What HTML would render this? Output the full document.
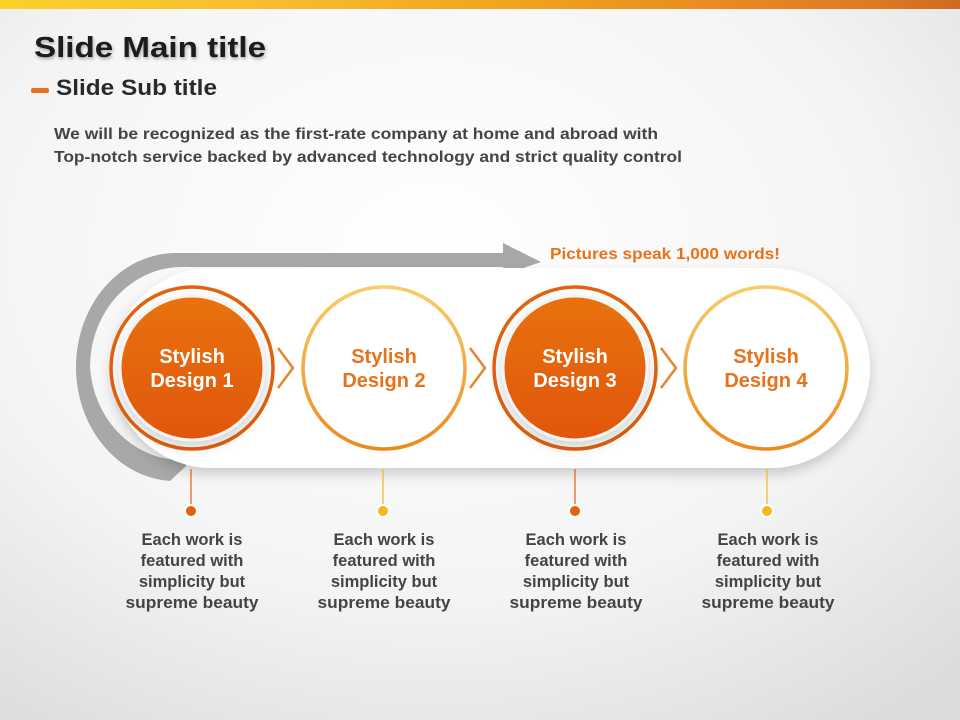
<!DOCTYPE html>
<html><head><style>
body{margin:0;width:960px;height:720px;overflow:hidden;font-family:"Liberation Sans",sans-serif;}
</style></head><body>
<svg width="960" height="720" xmlns="http://www.w3.org/2000/svg" style="display:block">
<defs>
<radialGradient id="bg" cx="0.45" cy="0.35" r="0.8"><stop offset="0" stop-color="#ffffff"/><stop offset="0.6" stop-color="#f4f4f4"/><stop offset="1" stop-color="#dcdcdc"/></radialGradient>
<linearGradient id="top" x1="0" x2="1"><stop offset="0" stop-color="#fbd12a"/><stop offset="0.3" stop-color="#f7bb2e"/><stop offset="0.5" stop-color="#f0a81e"/><stop offset="0.75" stop-color="#e98a22"/><stop offset="0.9" stop-color="#e07a24"/><stop offset="1" stop-color="#d06a20"/></linearGradient>
<linearGradient id="fill" x1="0" y1="0" x2="0" y2="1"><stop offset="0" stop-color="#e8720f"/><stop offset="1" stop-color="#e2560a"/></linearGradient>
<linearGradient id="ring2" x1="0" y1="0" x2="0" y2="1"><stop offset="0" stop-color="#f9cc68"/><stop offset="1" stop-color="#ec8a1c"/></linearGradient>
<filter id="sh" x="-20%" y="-20%" width="140%" height="150%"><feDropShadow dx="0" dy="6" stdDeviation="6" flood-color="#000" flood-opacity="0.18"/></filter>
<filter id="ts"><feDropShadow dx="1" dy="2" stdDeviation="1.5" flood-color="#000" flood-opacity="0.3"/></filter>
</defs>
<rect width="960" height="720" fill="url(#bg)"/>
<rect width="960" height="9" fill="url(#top)"/>
<text x="34" y="57" font-size="29" font-weight="bold" fill="#1a1a1a" filter="url(#ts)" textLength="232" lengthAdjust="spacingAndGlyphs">Slide Main title</text>
<rect x="31" y="88" width="18" height="5" rx="2" fill="#e8721a"/>
<text x="56" y="95" font-size="22" font-weight="bold" fill="#2a2a2a" textLength="161" lengthAdjust="spacingAndGlyphs">Slide Sub title</text>
<text x="54" y="139" font-size="16" font-weight="bold" fill="#444" textLength="604" lengthAdjust="spacingAndGlyphs">We will be recognized as the first-rate company at home and abroad with</text>
<text x="54" y="162" font-size="16" font-weight="bold" fill="#444" textLength="628" lengthAdjust="spacingAndGlyphs">Top-notch service backed by advanced technology and strict quality control</text>
<path d="M505,253 L176,253 A100,114 0 0 0 76,367 A100,114 0 0 0 170,481 L186,466 L186,460 A92,100 0 0 1 90,367 A92,100 0 0 1 182,267 L505,267 Z" fill="#a8a8a8"/>
<polygon points="503,243 541,262 503,275" fill="#a8a8a8"/>
<text x="550" y="259" font-size="16" font-weight="bold" fill="#e8721a" textLength="230" lengthAdjust="spacingAndGlyphs">Pictures speak 1,000 words!</text>
<rect x="112" y="268" width="758" height="200" rx="100" fill="#fff" filter="url(#sh)"/>
<g>
<circle cx="192" cy="368" r="81" fill="none" stroke="#e2620e" stroke-width="3.5"/>
<circle cx="192" cy="368" r="72" fill="url(#fill)" stroke="#f4f4f4" stroke-width="3" filter="url(#sh)"/>
<circle cx="384" cy="368" r="81" fill="#fff" stroke="url(#ring2)" stroke-width="3.5"/>
<circle cx="575" cy="368" r="81" fill="none" stroke="#e2620e" stroke-width="3.5"/>
<circle cx="575" cy="368" r="72" fill="url(#fill)" stroke="#f4f4f4" stroke-width="3" filter="url(#sh)"/>
<circle cx="766" cy="368" r="81" fill="#fff" stroke="url(#ring2)" stroke-width="3.5"/>
</g>
<g fill="none" stroke="#e8852a" stroke-width="2.5">
<polyline points="278,348 293,368 278,388"/>
<polyline points="470,348 485,368 470,388"/>
<polyline points="661,348 676,368 661,388"/>
</g>
<g font-size="20" font-weight="bold" text-anchor="middle">
<text x="192" y="363" fill="#fff">Stylish</text><text x="192" y="387" fill="#fff">Design 1</text>
<text x="384" y="363" fill="#e8721a">Stylish</text><text x="384" y="387" fill="#e8721a">Design 2</text>
<text x="575" y="363" fill="#fff">Stylish</text><text x="575" y="387" fill="#fff">Design 3</text>
<text x="766" y="363" fill="#e8721a">Stylish</text><text x="766" y="387" fill="#e8721a">Design 4</text>
</g>
<g stroke-width="1.2">
<line x1="191" y1="469" x2="191" y2="506" stroke="#e2620e"/>
<line x1="383" y1="469" x2="383" y2="506" stroke="#f2b820"/>
<line x1="575" y1="469" x2="575" y2="506" stroke="#e2620e"/>
<line x1="767" y1="469" x2="767" y2="506" stroke="#f2b820"/>
</g>
<g stroke="#fff" stroke-width="2">
<circle cx="191" cy="511" r="6" fill="#e2620e"/>
<circle cx="383" cy="511" r="6" fill="#f2b820"/>
<circle cx="575" cy="511" r="6" fill="#e2620e"/>
<circle cx="767" cy="511" r="6" fill="#f2b820"/>
</g>
<g font-size="16.5" font-weight="bold" fill="#444" text-anchor="middle">
<text x="192" y="545">Each work is</text><text x="192" y="566">featured with</text><text x="192" y="587">simplicity but</text><text x="192" y="608" textLength="133" lengthAdjust="spacingAndGlyphs">supreme beauty</text>
<text x="384" y="545">Each work is</text><text x="384" y="566">featured with</text><text x="384" y="587">simplicity but</text><text x="384" y="608" textLength="133" lengthAdjust="spacingAndGlyphs">supreme beauty</text>
<text x="576" y="545">Each work is</text><text x="576" y="566">featured with</text><text x="576" y="587">simplicity but</text><text x="576" y="608" textLength="133" lengthAdjust="spacingAndGlyphs">supreme beauty</text>
<text x="768" y="545">Each work is</text><text x="768" y="566">featured with</text><text x="768" y="587">simplicity but</text><text x="768" y="608" textLength="133" lengthAdjust="spacingAndGlyphs">supreme beauty</text>
</g>
</svg>
</body></html>
